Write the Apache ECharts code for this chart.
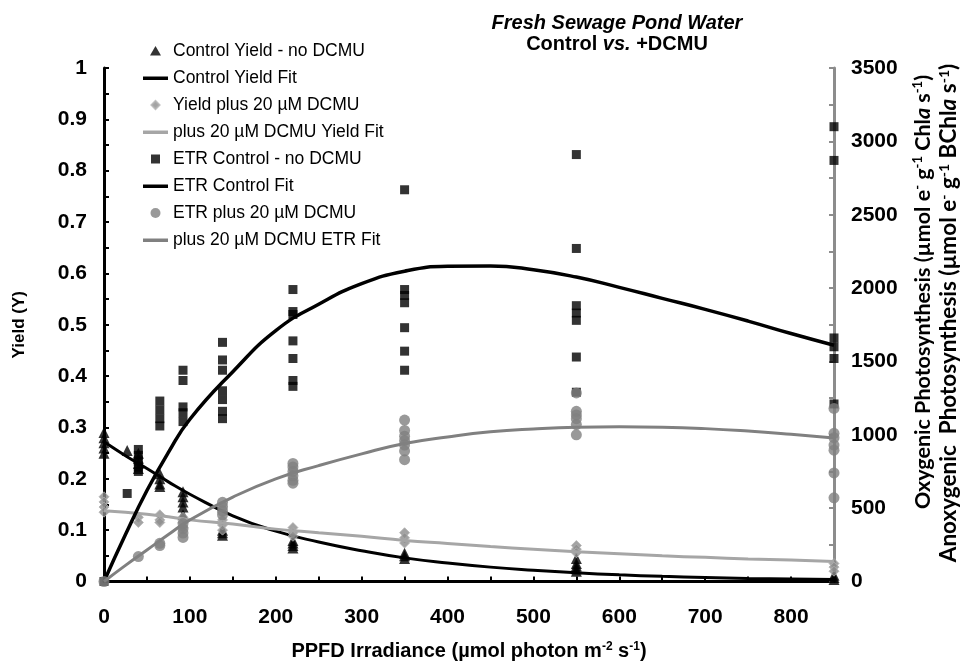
<!DOCTYPE html>
<html><head><meta charset="utf-8">
<script src="https://cdn.jsdelivr.net/npm/echarts@6/dist/echarts.min.js"></script>
<style>html,body{margin:0;padding:0;background:#fff}#c{width:963px;height:666px}</style>
</head><body><div id="c"></div>
<script>
// ---- data (x = PPFD, y = value) ----
const ctrlYield = [
 [0,0.29],[0,0.28],[0,0.27],[0,0.26],[0,0.25],
 [27,0.255],
 [40,0.25],[40,0.24],[40,0.23],[40,0.22],
 [65,0.21],[65,0.2],[65,0.19],[65,0.185],
 [92,0.175],[92,0.165],[92,0.155],[92,0.145],[92,0.13],
 [138,0.1],[138,0.095],[138,0.09],
 [220,0.08],[220,0.075],[220,0.07],[220,0.065],
 [350,0.055],[350,0.05],[350,0.045],
 [550,0.045],[550,0.035],[550,0.03],[550,0.025],[550,0.02],
 [850,0.012],[850,0.008],[850,0.004]
];
const dcmuYield = [
 [0,0.165],[0,0.155],[0,0.145],[0,0.135],
 [40,0.125],[40,0.115],
 [65,0.13],[65,0.12],[65,0.115],
 [92,0.125],[92,0.115],[92,0.105],
 [138,0.12],[138,0.11],[138,0.1],
 [220,0.105],[220,0.095],[220,0.088],
 [350,0.095],[350,0.085],[350,0.075],
 [550,0.07],[550,0.063],[550,0.056],
 [850,0.035],[850,0.028],[850,0.02]
];
const etrCtrl = [
 [0,0],
 [27,600],
 [40,900],[40,860],[40,820],[40,780],[40,750],
 [65,1230],[65,1170],[65,1110],[65,1060],
 [92,1440],[92,1370],[92,1190],[92,1150],[92,1090],
 [138,1630],[138,1510],[138,1440],[138,1300],[138,1240],[138,1160],[138,1110],
 [220,1990],[220,1840],[220,1820],[220,1640],[220,1520],[220,1370],[220,1330],
 [350,2670],[350,1990],[350,1950],[350,1900],[350,1730],[350,1570],[350,1440],
 [550,2910],[550,2270],[550,1880],[550,1830],[550,1780],[550,1530],[550,1290],
 [850,3100],[850,2870],[850,1660],[850,1600],[850,1520],[850,1210]
];
const etrDcmu = [
 [0,0],
 [40,170],
 [65,260],[65,245],
 [92,395],[92,360],[92,330],[92,300],
 [138,540],[138,510],[138,480],[138,455],
 [220,805],[220,780],[220,750],[220,720],[220,690],[220,670],
 [350,1100],[350,1030],[350,990],[350,960],[350,930],[350,890],[350,830],
 [550,1285],[550,1160],[550,1135],[550,1110],[550,1070],[550,1000],
 [850,1180],[850,1010],[850,980],[850,930],[850,895],[850,740],[850,570]
];
// fitted curves
const fitX = [0,25,50,75,100,150,200,250,300,350,400,450,500,550,600,650,700,750,800,850];
const ctrlYieldFit = [0.272,0.245,0.22,0.194,0.17,0.128,0.098,0.077,0.06,0.046,0.036,0.028,0.022,0.017,0.013,0.010,0.008,0.006,0.005,0.004];
const dcmuYieldFit = [0.138,0.135,0.131,0.126,0.12,0.112,0.102,0.095,0.088,0.08,0.074,0.068,0.063,0.058,0.054,0.05,0.047,0.044,0.042,0.039];
const etrCtrlFit = [0,320,620,880,1106,1430,1710,1890,2030,2115,2148,2150,2125,2075,2005,1930,1855,1775,1690,1610];
const etrDcmuFit = [0,110,215,320,420,575,700,790,870,940,985,1020,1040,1052,1055,1052,1042,1025,1003,978];

const pair = (xs, ys) => xs.map((x,i)=>[x, ys[i]]);
const F = 'Liberation Sans, Arial, sans-serif';
const CAL = 'Lato, sans-serif';
const black = '#000', grey = '#808080', light = '#a6a6a6', dia = '#8c8c8c';
const BOX = 'M0,0L0,0M25,11L25,11';
const icons = {
  line: 'path://'+BOX+'M0,4H25V7.5H0Z',
  tri: 'path://'+BOX+'M12.5,0.5L18,10H7Z',
  dia: 'path://'+BOX+'M12.5,1.5L16.5,5.5L12.5,9.5L8.5,5.5Z',
  sq: 'path://'+BOX+'M8,1H17V10H8Z',
  circ: 'path://'+BOX+'M17.5,5.5A5,5,0,1,1,7.5,5.5A5,5,0,1,1,17.5,5.5Z'
};
const mk = (fs) => ({
  n:{fontFamily:CAL,fontSize:fs,fontWeight:'bold',color:black},
  i:{fontFamily:CAL,fontSize:fs,fontWeight:'bold',fontStyle:'italic',color:black},
  s:{fontFamily:CAL,fontSize:Math.round(fs*0.6),fontWeight:'bold',color:black,padding:[0,0,10,0]}
});

const chart = echarts.init(document.getElementById('c'), null, {renderer:'canvas'});
chart.setOption({
  animation:false,
  backgroundColor:'#fff',
  title:{
    left:617, top:13, textAlign:'center', padding:0,
    text:'{a|Fresh Sewage Pond Water}\n{b|Control }{c|vs.}{b| +DCMU}',
    textStyle:{
      rich:{
        a:{fontFamily:F,fontSize:20,fontWeight:'bold',fontStyle:'italic',color:'#000',lineHeight:21},
        b:{fontFamily:F,fontSize:20,fontWeight:'bold',color:'#000',lineHeight:21},
        c:{fontFamily:F,fontSize:20,fontWeight:'bold',fontStyle:'italic',color:'#000',lineHeight:21}
      }
    }
  },
  legend:{
    orient:'vertical', left:142, top:42, padding:0, itemWidth:25, itemHeight:11, itemGap:9,
    textStyle:{fontFamily:F,fontSize:17.5,color:'#000',lineHeight:18},
    data:[
      {name:'Control Yield - no DCMU',icon:icons.tri},
      {name:'Control Yield Fit',icon:icons.line},
      {name:'Yield plus 20 µM DCMU',icon:icons.dia},
      {name:'plus 20 µM DCMU Yield Fit',icon:icons.line},
      {name:'ETR Control - no DCMU',icon:icons.sq},
      {name:'ETR Control Fit',icon:icons.line},
      {name:'ETR plus 20 µM DCMU',icon:icons.circ},
      {name:'plus 20 µM DCMU ETR Fit',icon:icons.line}
    ]
  },
  grid:{left:104, right:129, top:68, bottom:79, containLabel:false},
  xAxis:{
    type:'value', min:0, max:850, interval:100,
    axisLine:{lineStyle:{color:black,width:3}},
    axisTick:{show:true,inside:true,length:5,lineStyle:{color:black,width:2}},
    minorTick:{show:true,splitNumber:2,length:5,lineStyle:{color:black,width:2}},
    splitLine:{show:false},
    axisLabel:{fontFamily:F,fontSize:21,fontWeight:'bold',color:black,margin:25,showMaxLabel:false},
    name:'{n|PPFD Irradiance (µmol photon m}{s|-2}{n| s}{s|-1}{n|)}',
    nameLocation:'middle', nameGap:59,
    nameTextStyle:{rich:{
      n:{fontFamily:F,fontSize:20,fontWeight:'bold',color:black},
      s:{fontFamily:F,fontSize:12,fontWeight:'bold',color:black,padding:[0,0,9,0]}
    }}
  },
  yAxis:[{
    type:'value', min:0, max:1, interval:0.1, position:'left',
    axisLine:{show:true,lineStyle:{color:black,width:3}},
    axisTick:{show:true,inside:true,length:5,lineStyle:{color:black,width:2}},
    minorTick:{show:true,splitNumber:2,length:5,lineStyle:{color:black,width:2}},
    splitLine:{show:false},
    axisLabel:{fontFamily:F,fontSize:21,fontWeight:'bold',color:black,margin:17,
      formatter:v=>String(Math.round(v*10)/10)},
    name:'Yield (Y)', nameLocation:'middle', nameGap:76, nameRotate:90,
    nameTextStyle:{fontFamily:F,fontSize:17,fontWeight:'bold',color:black}
  },{
    type:'value', min:0, max:3500, interval:500, position:'right',
    axisLine:{show:true,lineStyle:{color:dia,width:3}},
    axisTick:{show:true,inside:true,length:5,lineStyle:{color:dia,width:2}},
    minorTick:{show:true,splitNumber:2,length:5,lineStyle:{color:dia,width:2}},
    splitLine:{show:false},
    axisLabel:{fontFamily:F,fontSize:21,fontWeight:'bold',color:black,margin:17,formatter:v=>String(v)}
  }],
  graphic:[
    {type:'text', x:923, y:292, rotation:Math.PI/2, silent:true,
     style:{align:'center',verticalAlign:'middle',
       text:'{n|Oxygenic Photosynthesis (µmol e}{s|-}{n| g}{s|-1}{n| Chl}{i|a}{n| s}{s|-1}{n|)}',
       rich:mk(21.5)}},
    {type:'text', x:949, y:313, rotation:Math.PI/2, silent:true,
     style:{align:'center',verticalAlign:'middle',
       text:'{n|Anoxygenic  Photosynthesis (µmol e}{s|-}{n| g}{s|-1}{n| BChl}{i|a}{n| s}{s|-1}{n|)}',
       rich:mk(22.5)}}
  ],
  series:[
    {name:'Control Yield - no DCMU',type:'scatter',yAxisIndex:0,data:ctrlYield,symbol:'triangle',symbolSize:11,itemStyle:{color:black},z:3},
    {name:'Control Yield Fit',type:'line',yAxisIndex:0,data:pair(fitX,ctrlYieldFit),smooth:true,symbol:'none',lineStyle:{color:black,width:3},itemStyle:{color:black},z:4},
    {name:'Yield plus 20 µM DCMU',type:'scatter',yAxisIndex:0,data:dcmuYield,symbol:'diamond',symbolSize:10,itemStyle:{color:dia,borderColor:'#b0b0b0',borderWidth:1},z:5},
    {name:'plus 20 µM DCMU Yield Fit',type:'line',yAxisIndex:0,data:pair(fitX,dcmuYieldFit),smooth:true,symbol:'none',lineStyle:{color:light,width:3},itemStyle:{color:light},z:6},
    {name:'ETR Control - no DCMU',type:'scatter',yAxisIndex:1,data:etrCtrl,symbol:'rect',symbolSize:9,itemStyle:{color:black},z:7},
    {name:'ETR Control Fit',type:'line',yAxisIndex:1,data:pair(fitX,etrCtrlFit),smooth:true,symbol:'none',lineStyle:{color:black,width:3.5},itemStyle:{color:black},z:8},
    {name:'ETR plus 20 µM DCMU',type:'scatter',yAxisIndex:1,data:etrDcmu,symbol:'circle',symbolSize:11,itemStyle:{color:grey},z:9},
    {name:'plus 20 µM DCMU ETR Fit',type:'line',yAxisIndex:1,data:pair(fitX,etrDcmuFit),smooth:true,symbol:'none',lineStyle:{color:grey,width:3},itemStyle:{color:grey},z:10}
  ]
});
</script></body></html>
